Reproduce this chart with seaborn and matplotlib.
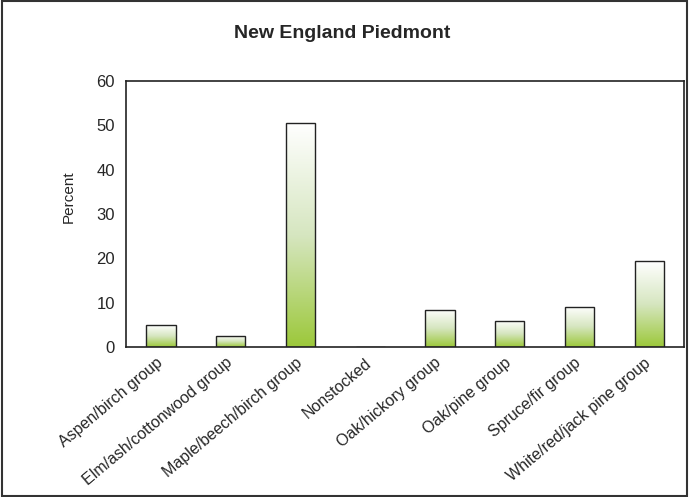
import numpy as np
import pandas as pd
import matplotlib
matplotlib.use('Agg')
import matplotlib.pyplot as plt
import matplotlib.colors as mcolors
from matplotlib.patches import Rectangle
import matplotlib.transforms as mtransforms
import seaborn as sns

categories = ['Aspen/birch group', 'Elm/ash/cottonwood group', 'Maple/beech/birch group',
              'Nonstocked', 'Oak/hickory group', 'Oak/pine group', 'Spruce/fir group',
              'White/red/jack pine group']
percent = [4.9, 2.5, 50.5, 0.0, 8.4, 5.9, 9.1, 19.3]

df = pd.DataFrame({'category': categories, 'percent': percent})

sns.set_style('white')
plt.rcParams['font.family'] = ['Liberation Sans', 'DejaVu Sans']

fig = plt.figure(figsize=(6.89, 4.97), dpi=100)
ax = fig.add_axes([0.183, 0.302, 0.810, 0.535])

sns.barplot(x='category', y='percent', data=df, order=categories, width=0.42,
            facecolor='none', edgecolor='#222222', linewidth=1.0, ax=ax)

# green-to-white gradient inside each bar
cmap = mcolors.LinearSegmentedColormap.from_list('g', ['#9cc83a', '#d6e6c0', '#ffffff'])
grad = np.linspace(0, 1, 256).reshape(-1, 1)
for bar in ax.patches:
    h = bar.get_height()
    if h <= 0:
        continue
    x0 = bar.get_x()
    w = bar.get_width()
    im = ax.imshow(grad, cmap=cmap, aspect='auto', origin='lower',
                   extent=[x0, x0 + w, 0, h], zorder=bar.get_zorder() - 0.1)
    im.set_clip_path(bar)

ax.set_xlim(-0.5, len(categories) - 0.5)
ax.set_ylim(0, 60)
ax.set_yticks(range(0, 61, 10))
ax.set_xticks(np.arange(len(categories)))
ax.set_xticklabels(categories, rotation=40, ha='right', rotation_mode='anchor', fontsize=11.5)
ax.tick_params(axis='x', length=0, pad=6)
# nudge labels a little left, like the original
offset = mtransforms.ScaledTranslation(-4 / 72, 0, fig.dpi_scale_trans)
for lab in ax.get_xticklabels():
    lab.set_transform(lab.get_transform() + offset)
ax.set_xticks(np.arange(-0.5, len(categories)), minor=True)
ax.tick_params(axis='x', which='minor', direction='out', length=5, width=1, color='#222222')
ax.tick_params(axis='y', direction='out', length=5, width=1, color='#222222', labelsize=12,
               pad=3)
ax.set_xlabel('')
ax.set_ylabel('Percent', fontsize=11)
ax.yaxis.set_label_coords(-0.09, 0.564)
for s in ax.spines.values():
    s.set_color('#222222')
    s.set_linewidth(1.2)

fig.text(0.497, 0.932, 'New England Piedmont', ha='center', va='center',
         fontsize=14, fontweight='bold')

fig.patches.append(Rectangle((0.003, 0.003), 0.994, 0.994, transform=fig.transFigure,
                             fill=False, edgecolor='#333333', linewidth=1.5))

fig.savefig('out.png', dpi=100)
